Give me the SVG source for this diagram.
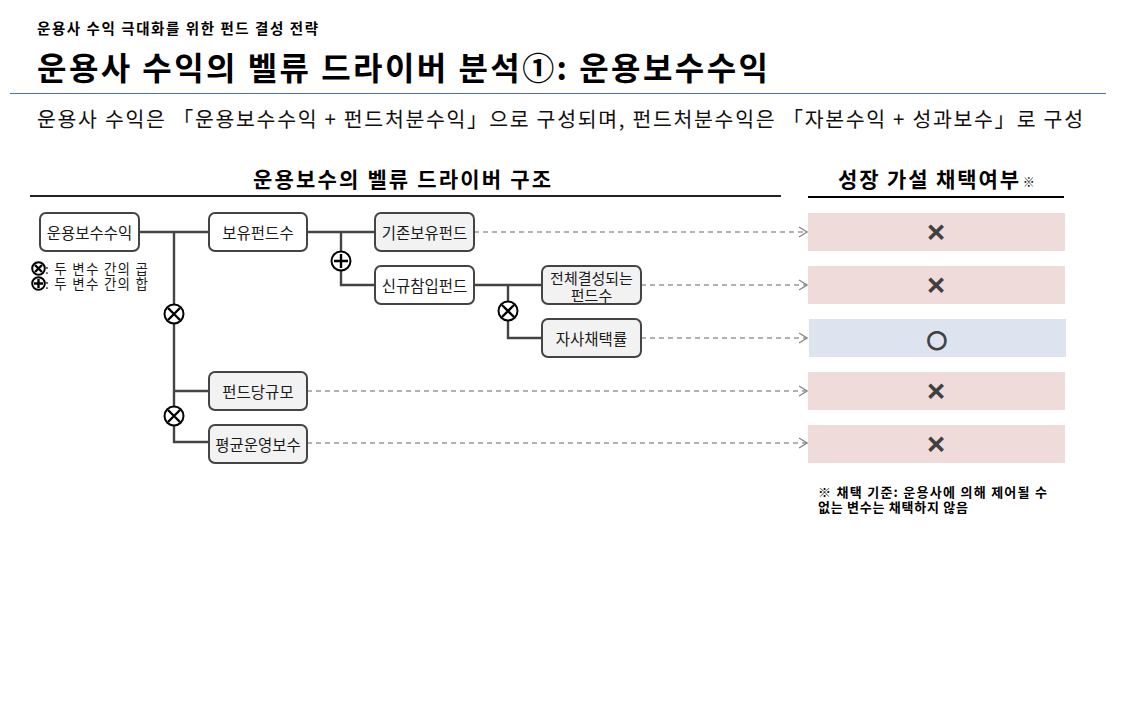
<svg xmlns="http://www.w3.org/2000/svg" width="1131" height="717" viewBox="0 0 1131 717">
<defs>
<style>
text{font-family:"Noto Sans CJK KR","Noto Sans",sans-serif;fill:#000}
.sub{font-size:14.5px;font-weight:bold}
.title{font-size:32px;font-weight:bold}
.body{font-size:20.5px;fill:#111}
.hdr{font-size:21px;font-weight:bold}
.nt{font-size:15.5px;fill:#1a1a1a;text-anchor:middle;dominant-baseline:central}
.leg{font-size:13.5px;fill:#1a1a1a}
.foot{font-size:13px;font-weight:bold}
.box{fill:#ffffff;stroke:#444;stroke-width:2}
.leaf{fill:#f2f2f2;stroke:#444;stroke-width:2}
.tree{fill:none;stroke:#444;stroke-width:2.4}
.dash{fill:none;stroke:#999;stroke-width:1.5;stroke-dasharray:5 4}
.op{fill:#fff;stroke:#000;stroke-width:2}
.opl{stroke:#000;stroke-width:2.4;fill:none}
.red{fill:#efdbda}
.blue{fill:#dde4ef}
.mark{font-size:24px;fill:#404040;stroke:#404040;stroke-width:1.1;text-anchor:middle;dominant-baseline:central;font-family:"DejaVu Sans",sans-serif}
</style>
<marker id="arr" markerWidth="10" markerHeight="12" refX="9" refY="6" orient="auto" markerUnits="userSpaceOnUse">
<path d="M1,1 L9,6 L1,11" fill="none" stroke="#888" stroke-width="1.3"/>
</marker>
</defs>
<rect width="1131" height="717" fill="#fff"/>
<g id="header">
<text class="sub" x="37" y="34" textLength="281" lengthAdjust="spacing">운용사 수익 극대화를 위한 펀드 결성 전략</text>
<text class="title" x="37" y="80" textLength="731" lengthAdjust="spacing">운용사 수익의 벨류 드라이버 분석①: 운용보수수익</text>
<line x1="10" y1="93.5" x2="1106" y2="93.5" stroke="#4f72a8" stroke-width="1"/>
<text class="body" x="37" y="127" textLength="1046" lengthAdjust="spacing">운용사 수익은 「운용보수수익 + 펀드처분수익」으로 구성되며, 펀드처분수익은 「자본수익 + 성과보수」로 구성</text>
<text class="hdr" x="253" y="187" textLength="298" lengthAdjust="spacing">운용보수의 벨류 드라이버 구조</text>
<line x1="30" y1="196" x2="781" y2="196" stroke="#222" stroke-width="2.2"/>
<text class="hdr" x="838" y="187"><tspan textLength="181" lengthAdjust="spacing">성장 가설 채택여부</tspan><tspan font-size="12" dx="2">※</tspan></text>
<line x1="808" y1="197" x2="1064" y2="197" stroke="#000" stroke-width="2.2"/>
</g>
<g id="legend">
<circle class="op" cx="38.5" cy="268.5" r="6.3" stroke-width="1.6"/>
<path class="opl" d="M35,265 L42,272 M42,265 L35,272" stroke-width="1.8"/>
<circle class="op" cx="38.5" cy="283.5" r="6.3" stroke-width="1.6"/>
<path class="opl" d="M38.5,279 V288 M34,283.5 H43" stroke-width="1.6"/>
<text class="leg" x="45" y="273.5" textLength="103" lengthAdjust="spacing">: 두 변수 간의 곱</text>
<text class="leg" x="45" y="288.5" textLength="103" lengthAdjust="spacing">: 두 변수 간의 합</text>
</g>
<g id="connectors">
<path class="tree" d="M139,232 H209 M174,232 V442 H209 M174,391 H209"/>
<path class="tree" d="M307,232 H375 M341,232 V285 H375"/>
<path class="tree" d="M474,285 H542 M508,285 V338 H542"/>
<line class="dash" x1="474" y1="232" x2="807" y2="232" marker-end="url(#arr)"/>
<line class="dash" x1="641" y1="285" x2="807" y2="285" marker-end="url(#arr)"/>
<line class="dash" x1="641" y1="338" x2="807" y2="338" marker-end="url(#arr)"/>
<line class="dash" x1="307" y1="391" x2="807" y2="391" marker-end="url(#arr)"/>
<line class="dash" x1="307" y1="443" x2="807" y2="443" marker-end="url(#arr)"/>
<g id="op-mul1"><circle class="op" cx="174" cy="314" r="9.5"/><path class="opl" d="M168,308 L180,320 M180,308 L168,320"/></g>
<g id="op-mul2"><circle class="op" cx="174" cy="416" r="9.5"/><path class="opl" d="M168,410 L180,422 M180,410 L168,422"/></g>
<g id="op-add"><circle class="op" cx="341" cy="261" r="9.5"/><path class="opl" d="M341,254 V268 M334,261 H348"/></g>
<g id="op-mul3"><circle class="op" cx="508" cy="311" r="9.5"/><path class="opl" d="M502,305 L514,317 M514,305 L502,317"/></g>
</g>
<g id="n-revenue"><rect class="box" x="40" y="213" width="99" height="38" rx="6"/><text class="nt" x="89.5" y="232">운용보수수익</text></g>
<g id="n-funds"><rect class="box" x="209" y="213" width="98" height="38" rx="6"/><text class="nt" x="258" y="232">보유펀드수</text></g>
<g id="n-existing"><rect class="leaf" x="375" y="213" width="99" height="38" rx="6"/><text class="nt" x="424.5" y="232">기존보유펀드</text></g>
<g id="n-new"><rect class="box" x="375" y="266" width="99" height="38" rx="6"/><text class="nt" x="424.5" y="285">신규참입펀드</text></g>
<g id="n-total"><rect class="leaf" x="542" y="266" width="99" height="38" rx="6"/><text class="nt" style="font-size:15px"><tspan x="591.5" y="276.5">전체결성되는</tspan><tspan x="591.5" y="293.5">펀드수</tspan></text></g>
<g id="n-rate"><rect class="leaf" x="542" y="319" width="99" height="38" rx="6"/><text class="nt" x="591.5" y="338">자사채택률</text></g>
<g id="n-size"><rect class="leaf" x="209" y="372" width="98" height="38" rx="6"/><text class="nt" x="258" y="391">펀드당규모</text></g>
<g id="n-fee"><rect class="leaf" x="209" y="425" width="98" height="38" rx="6"/><text class="nt" x="258" y="444">평균운영보수</text></g>
<g id="r1"><rect class="red" x="808" y="213" width="257" height="38"/><text class="mark" x="936" y="233">✕</text></g>
<g id="r2"><rect class="red" x="808" y="266" width="257" height="38"/><text class="mark" x="936" y="286">✕</text></g>
<g id="r3"><rect class="blue" x="809" y="319" width="257" height="38"/><text class="mark" x="937" y="339">○</text></g>
<g id="r4"><rect class="red" x="808" y="372" width="257" height="38"/><text class="mark" x="936" y="392">✕</text></g>
<g id="r5"><rect class="red" x="808" y="425" width="257" height="38"/><text class="mark" x="936" y="445">✕</text></g>
<g id="footnote">
<text class="foot" x="818" y="497" textLength="229" lengthAdjust="spacing">※ 채택 기준: 운용사에 의해 제어될 수</text>
<text class="foot" x="818" y="512" textLength="150" lengthAdjust="spacing">없는 변수는 채택하지 않음</text>
</g>
</svg>
